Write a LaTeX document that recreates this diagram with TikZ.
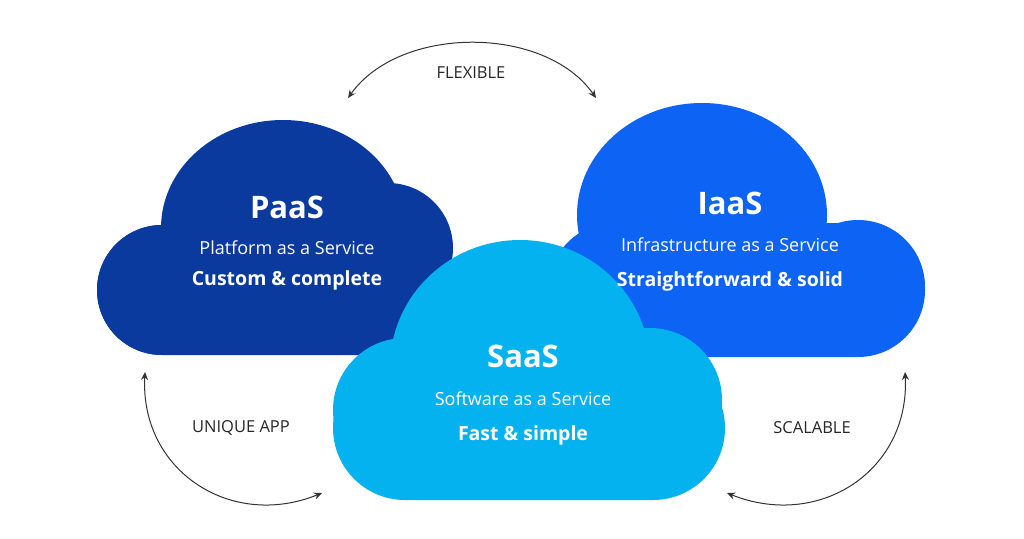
\documentclass[tikz,border=0pt]{standalone}
\usepackage{fontspec}
\setmainfont{Open Sans}
\usetikzlibrary{arrows.meta}
\definecolor{paas}{HTML}{0A3A9E}
\definecolor{iaas}{HTML}{0D63F3}
\definecolor{saas}{HTML}{05B2F0}
\begin{document}
\begin{tikzpicture}[x=1pt,y=-1pt,
  ttl/.style={text=white,font=\fontsize{31}{32}\selectfont\bfseries},
  sub/.style={text=white,font=\fontsize{18}{20}\selectfont},
  tag/.style={text=white,font=\fontsize{19.5}{21}\selectfont\bfseries},
  lab/.style={text=black!85,font=\fontsize{16.5}{18}\selectfont},
  arr/.style={draw=black!80,line width=1pt,{Stealth[length=8pt,width=7pt]}-{Stealth[length=8pt,width=7pt]}}]
\useasboundingbox (0,0) rectangle (1024,538);
% PaaS
\fill[paas,rounded corners=65] (97,225) rectangle (455,355);
\fill[paas] (283,228) ellipse [x radius=122,y radius=108] (162,290) circle (65) (388,248) circle (65);
% IaaS
\fill[iaas,rounded corners=67] (548,223) rectangle (925,357);
\fill[iaas] (702,215) ellipse [x radius=125,y radius=112] (858,287) circle (67) (615,290) circle (67);
% SaaS
\fill[saas,rounded corners=72] (333,356) rectangle (725,500);
\fill[saas] (520,367) ellipse [x radius=130,y radius=127] (405,410) circle (72) (650,400) circle (72);
% texts
\node[ttl] (pt) at (287,207) {PaaS};
\node[sub] (ps) at (287,248) {Platform as a Service};
\node[tag] (pg) at (287,280) {Custom \& complete};
\node[ttl] (it) at (730,203) {IaaS};
\node[sub] (is) at (730,245) {Infrastructure as a Service};
\node[tag] (ig) at (730,281) {Straightforward \& solid};
\node[ttl] (st) at (523,356) {SaaS};
\node[sub] (ss) at (523,399) {Software as a Service};
\node[tag] (sg) at (523,435) {Fast \& simple};
\node[lab] (fl) at (471,73) {FLEXIBLE};
\node[lab] (ua) at (241,428) {UNIQUE APP};
\node[lab] (sc) at (812,428) {SCALABLE};
% arrows
\coordinate (f1) at (348,98); \coordinate (f2) at (596,98);
\coordinate (u1) at (145,372); \coordinate (u2) at (322,493);
\coordinate (s1) at (905,372); \coordinate (s2) at (727,493);
\draw[arr] (f1) .. controls (400,25) and (545,25) .. (f2);
\draw[arr] (u2) .. controls (230,530) and (140,470) .. (u1);
\draw[arr] (s2) .. controls (820,530) and (910,470) .. (s1);
\end{tikzpicture}
\end{document}
